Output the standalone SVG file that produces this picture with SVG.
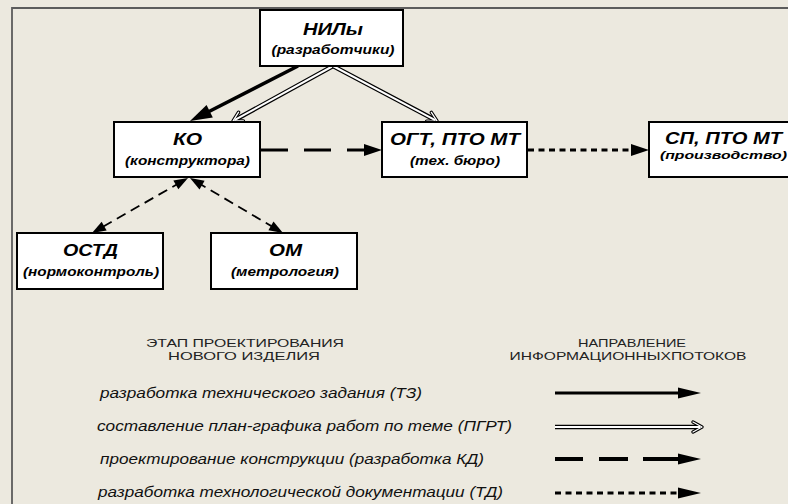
<svg xmlns="http://www.w3.org/2000/svg" xmlns:xlink="http://www.w3.org/1999/xlink" width="788" height="504" viewBox="0 0 788 504">
<style>
.bg{fill:#ECE9DF}
.frame{fill:none;stroke:#5c5c5c;stroke-width:1.8}
.box{fill:#fff;stroke:#000;stroke-width:2}
.t{font-family:"Liberation Sans",Arial,sans-serif;font-weight:bold;font-style:italic;font-size:17px;text-anchor:middle;fill:#000}
.s{font-family:"Liberation Sans",Arial,sans-serif;font-weight:bold;font-style:italic;font-size:13px;text-anchor:middle;fill:#000}
.lg{font-family:"Liberation Sans",Arial,sans-serif;font-style:italic;font-size:14px;fill:#111}
.hd{font-family:"Liberation Sans",Arial,sans-serif;font-size:11.5px;text-anchor:middle;fill:#222}
.solid{fill:none;stroke:#000;stroke-width:3.5}
.dash{fill:none;stroke:#000;stroke-width:3.2;stroke-dasharray:27 16}
.dot{fill:none;stroke:#000;stroke-width:3;stroke-dasharray:6 4.5}
.thin{fill:none;stroke:#000;stroke-width:1.8;stroke-dasharray:10 6}
.dO{fill:none;stroke:#000;stroke-width:4.5}
.dI{fill:none;stroke:#fff;stroke-width:2}
.cO{fill:none;stroke:#000;stroke-width:3.5;stroke-linejoin:round;stroke-linecap:round}
.cI{fill:none;stroke:#fff;stroke-width:1.3;stroke-linejoin:round;stroke-linecap:round}
.head{fill:#000}
</style>
<defs>
<path id="hBig" d="M-22,-7 L0,0 L-22,7 z"/>
<path id="hMid" d="M-18,-6 L0,0 L-18,6 z"/>
<path id="hLeg" d="M-23,-5.5 L0,0 L-23,5.5 z"/>
<path id="hSmall" d="M-14,-5 L0,0 L-14,5 z"/>
</defs>
<rect class="bg" x="0" y="0" width="788" height="504"/>
<path class="frame" d="M12,504 V8 H788"/>

<g id="connectors">
  <path class="solid" d="M298,66 L206.1,112.95"/>
  <use class="head" xlink:href="#hBig" transform="translate(190,121) rotate(153.43)"/>
  <g transform="translate(333,66) rotate(151.19)">
    <path class="dO" d="M0,0 H112"/>
    <path class="cO" d="M105,-5 L114,0 L105,5"/>
    <path class="dI" d="M0,0 H112"/>
    <path class="cI" d="M105,-5 L114,0 L105,5"/>
  </g>
  <g transform="translate(333,66) rotate(27.87)">
    <path class="dO" d="M0,0 H115.6"/>
    <path class="cO" d="M108.6,-5 L117.6,0 L108.6,5"/>
    <path class="dI" d="M0,0 H115.6"/>
    <path class="cI" d="M108.6,-5 L117.6,0 L108.6,5"/>
  </g>
  <path class="dash" d="M261,150 H366"/>
  <use class="head" xlink:href="#hMid" transform="translate(382,150)"/>
  <path class="dot" d="M528,150 H634"/>
  <use class="head" xlink:href="#hMid" transform="translate(649,150)"/>
  <path class="thin" d="M181.06,181.98 L98.94,229.02"/>
  <use class="head" xlink:href="#hSmall" transform="translate(92,233) rotate(150.19)"/>
  <use class="head" xlink:href="#hSmall" transform="translate(188,178) rotate(-29.81)"/>
  <path class="thin" d="M196.89,182.07 L276.11,228.93"/>
  <use class="head" xlink:href="#hSmall" transform="translate(283,233) rotate(30.60)"/>
  <use class="head" xlink:href="#hSmall" transform="translate(190,178) rotate(-149.40)"/>
</g>

<g id="node-nil">
  <rect class="box" x="260" y="10" width="143" height="56"/>
  <text class="t" x="333" y="35" textLength="60" lengthAdjust="spacingAndGlyphs">НИЛы</text>
  <text class="s" x="333" y="54" textLength="123" lengthAdjust="spacingAndGlyphs">(разработчики)</text>
</g>
<g id="node-ko">
  <rect class="box" x="114" y="122" width="146" height="55"/>
  <text class="t" x="187.5" y="145" textLength="29" lengthAdjust="spacingAndGlyphs">КО</text>
  <text class="s" x="187.5" y="165" textLength="125" lengthAdjust="spacingAndGlyphs">(конструктора)</text>
</g>
<g id="node-ogt">
  <rect class="box" x="382" y="122" width="145" height="55"/>
  <text class="t" x="455" y="145" textLength="130" lengthAdjust="spacingAndGlyphs">ОГТ, ПТО МТ</text>
  <text class="s" x="455" y="165" textLength="90" lengthAdjust="spacingAndGlyphs">(тех. бюро)</text>
</g>
<g id="node-sp">
  <rect class="box" x="649" y="122" width="150" height="55"/>
  <text class="t" x="723.5" y="144" style="font-size:16px" textLength="117" lengthAdjust="spacingAndGlyphs">СП, ПТО МТ</text>
  <text class="s" x="723.5" y="159" style="font-size:11.5px" textLength="127" lengthAdjust="spacingAndGlyphs">(производство)</text>
</g>
<g id="node-ostd">
  <rect class="box" x="17" y="233" width="146" height="56"/>
  <text class="t" x="90.5" y="256" textLength="55" lengthAdjust="spacingAndGlyphs">ОСТД</text>
  <text class="s" x="91" y="276" textLength="136" lengthAdjust="spacingAndGlyphs">(нормоконтроль)</text>
</g>
<g id="node-om">
  <rect class="box" x="211" y="233" width="146" height="56"/>
  <text class="t" x="285.5" y="256" textLength="33" lengthAdjust="spacingAndGlyphs">ОМ</text>
  <text class="s" x="285" y="276" textLength="108" lengthAdjust="spacingAndGlyphs">(метрология)</text>
</g>

<g id="legend">
  <text class="hd" x="245" y="347" textLength="198" lengthAdjust="spacingAndGlyphs">ЭТАП ПРОЕКТИРОВАНИЯ</text>
  <text class="hd" x="244" y="360" textLength="152" lengthAdjust="spacingAndGlyphs">НОВОГО ИЗДЕЛИЯ</text>
  <text class="hd" x="632" y="347" textLength="108" lengthAdjust="spacingAndGlyphs">НАПРАВЛЕНИЕ</text>
  <text class="hd" x="628" y="360" textLength="237" lengthAdjust="spacingAndGlyphs">ИНФОРМАЦИОННЫХПОТОКОВ</text>

  <text class="lg" x="100" y="398" textLength="322" lengthAdjust="spacingAndGlyphs">разработка технического задания (ТЗ)</text>
  <text class="lg" x="97" y="431" textLength="415" lengthAdjust="spacingAndGlyphs">составление план-графика работ по теме (ПГРТ)</text>
  <text class="lg" x="100" y="464" textLength="384" lengthAdjust="spacingAndGlyphs">проектирование конструкции (разработка КД)</text>
  <text class="lg" x="98" y="497" textLength="405" lengthAdjust="spacingAndGlyphs">разработка технологической документации (ТД)</text>

  <path class="solid" d="M555,393 H682" style="stroke-width:3"/>
  <use class="head" xlink:href="#hLeg" transform="translate(701,393)"/>
  <g transform="translate(555,427)">
    <path class="dO" d="M0,0 H145"/>
    <path class="cO" d="M138,-5 L147,0 L138,5"/>
    <path class="dI" d="M0,0 H145"/>
    <path class="cI" d="M138,-5 L147,0 L138,5"/>
  </g>
  <path class="dash" d="M555,459 H683" style="stroke-width:3.8;stroke-dasharray:28 16 29 15 40"/>
  <use class="head" xlink:href="#hLeg" transform="translate(701,459)"/>
  <path class="dot" d="M555,493 H682"/>
  <use class="head" xlink:href="#hLeg" transform="translate(701,493)"/>
</g>
</svg>
